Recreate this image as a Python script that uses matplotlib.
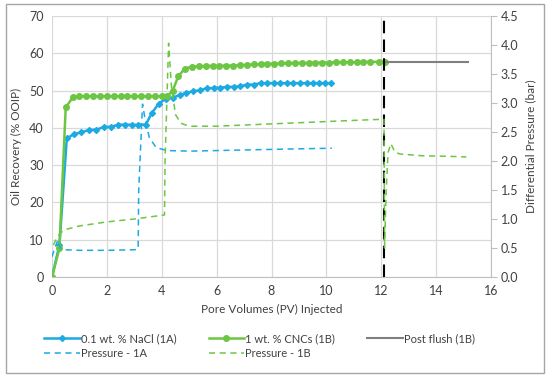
import numpy as np
import matplotlib.pyplot as plt

plt.rcParams['font.family'] = ['Lato', 'DejaVu Sans']

# oil recovery, 0.1 wt.% NaCl (1A)
pv_1a = [0, 0.27, 0.54, 0.8, 1.07, 1.34, 1.61, 1.88, 2.15, 2.4, 2.65, 2.9, 3.15,
         3.42, 3.64, 3.89, 4.15, 4.4, 4.65, 4.9, 5.15, 5.4, 5.64, 5.9, 6.13, 6.38,
         6.62, 6.86, 7.1, 7.35, 7.6, 7.84, 8.08, 8.32, 8.56, 8.8, 9.04, 9.28, 9.5,
         9.74, 9.96, 10.18]
rec_1a = [0, 8.5, 37.2, 38.3, 38.8, 39.4, 39.5, 40.2, 40.3, 40.8, 40.9, 40.8, 40.8,
          40.9, 44.0, 46.5, 47.8, 48.1, 48.8, 49.4, 49.8, 50.1, 50.6, 50.7, 50.8, 51.0,
          51.0, 51.1, 51.6, 51.6, 52.0, 52.0, 52.0, 52.0, 52.0, 52.0, 52.0, 52.0, 52.0,
          52.0, 52.0, 52.0]

# oil recovery, 1 wt.% CNCs (1B)
pv_1b = [0, 0.27, 0.5, 0.76, 1.0, 1.25, 1.5, 1.75, 2.0, 2.25, 2.5, 2.75, 3.0, 3.25,
         3.5, 3.75, 4.0, 4.2, 4.4, 4.6, 4.84, 5.1, 5.35, 5.6, 5.85, 6.1, 6.35, 6.6,
         6.85, 7.1, 7.35, 7.6, 7.85, 8.1, 8.35, 8.6, 8.85, 9.1, 9.35, 9.6, 9.85, 10.1,
         10.35, 10.6, 10.85, 11.1, 11.35, 11.6, 11.9, 12.15]
rec_1b = [0, 7.7, 45.5, 48.2, 48.5, 48.5, 48.5, 48.5, 48.5, 48.5, 48.5, 48.5, 48.5, 48.5,
          48.5, 48.5, 48.5, 48.5, 50.0, 53.8, 55.9, 56.4, 56.5, 56.6, 56.6, 56.6, 56.7, 56.7,
          56.8, 56.9, 57.0, 57.1, 57.2, 57.2, 57.3, 57.3, 57.4, 57.4, 57.4, 57.5, 57.5, 57.5,
          57.6, 57.6, 57.6, 57.6, 57.7, 57.7, 57.7, 57.7]

# post flush (1B)
pv_post = [12.15, 15.15]
rec_post = [57.7, 57.7]

# differential pressure, bar
pv_p1a = [0, 0.1, 0.22, 0.3, 0.45, 1.0, 2.0, 3.0, 3.14, 3.16, 3.3, 3.4, 3.55, 3.8,
          4.2, 5.0, 6.0, 7.0, 8.0, 9.0, 10.2]
dp_1a = [0.35, 0.5, 0.64, 0.5, 0.47, 0.46, 0.46, 0.47, 0.48, 1.5, 2.98, 2.7, 2.4, 2.23,
         2.18, 2.17, 2.18, 2.19, 2.2, 2.21, 2.22]

pv_p1b = [0.05, 0.15, 0.3, 0.5, 1.0, 2.0, 3.0, 4.1, 4.12, 4.25, 4.35, 4.5, 4.7, 5.0,
          6.0, 7.0, 8.0, 9.0, 10.0, 11.0, 12.1, 12.12, 12.18, 12.25, 12.35, 12.5, 12.7,
          13.5, 14.5, 15.1]
dp_1b = [0.55, 0.65, 0.76, 0.82, 0.88, 0.95, 1.0, 1.07, 2.0, 4.03, 3.3, 2.8, 2.65, 2.6,
         2.6, 2.62, 2.64, 2.66, 2.68, 2.7, 2.72, 0.5, 1.5, 2.15, 2.3, 2.15, 2.12,
         2.09, 2.08, 2.07]

pv_flush = 12.1

blue = '#1BAAE2'
green = '#6CC644'
txt = '#404040'

fig = plt.figure(figsize=(5.5, 3.79), dpi=100)
ax = fig.add_axes([52/550, 1 - 277/379, 439/550, 261/379])
ax2 = ax.twinx()

ax.plot(pv_1a, rec_1a, color=blue, lw=1.8, marker='D', ms=3, label='0.1 wt. % NaCl (1A)')
ax.plot(pv_1b, rec_1b, color=green, lw=1.8, marker='o', ms=4, label='1 wt. % CNCs (1B)')
ax.plot(pv_post, rec_post, color='#7F7F7F', lw=1.5, label='Post flush (1B)')
ax.plot([pv_flush, pv_flush], [0, 70], color='black', lw=1.5, ls=(0, (6, 3)))

ax2.plot(pv_p1a, dp_1a, color=blue, lw=1.1, ls=(0, (4, 3)), label='Pressure - 1A')
ax2.plot(pv_p1b, dp_1b, color=green, lw=1.1, ls=(0, (4, 3)), label='Pressure - 1B')

ax.set_xlim(0, 16)
ax.set_ylim(0, 70)
ax2.set_ylim(0, 4.5)
ax.set_xticks(np.arange(0, 17, 2))
ax.set_yticks(np.arange(0, 71, 10))
ax2.set_yticks(np.arange(0, 4.51, 0.5))
ax2.set_yticklabels(['%.1f' % v for v in np.arange(0, 4.51, 0.5)])
ax.grid(color='#D9D9D9', lw=0.9)
ax.set_axisbelow(True)

for a in (ax, ax2):
    for s in ('top', 'left'):
        a.spines[s].set_visible(False)
    a.spines['bottom'].set_color('#BFBFBF')
    a.spines['right'].set_color('#BFBFBF')
ax.spines['right'].set_visible(False)
ax2.spines['bottom'].set_visible(False)
ax.tick_params(axis='both', labelsize=9, colors=txt, length=0, pad=6)
ax2.tick_params(axis='y', labelsize=9, colors=txt, length=4, color='#BFBFBF', pad=3)

ax.set_xlabel('Pore Volumes (PV) Injected', fontsize=8.5, color=txt, labelpad=5)
ax.set_ylabel('Oil Recovery (% OOIP)', fontsize=8.5, color=txt, labelpad=5)
ax2.set_ylabel('Differential Pressure (bar)', fontsize=8.5, color=txt, labelpad=5)

h1, l1 = ax.get_legend_handles_labels()
h2, l2 = ax2.get_legend_handles_labels()
# column-major order so rows read: recovery series, then pressure series
handles = [h1[0], h2[0], h1[1], h2[1], h1[2]]
labels = [l1[0], l2[0], l1[1], l2[1], l1[2]]
leg = fig.legend(handles, labels, loc='lower left', bbox_to_anchor=(34/550, 10/379), ncol=3,
                 frameon=False, fontsize=8, handlelength=3.2, handletextpad=0.1,
                 columnspacing=2.9, labelspacing=0.35)
for t in leg.get_texts():
    t.set_color(txt)

fig.patches.append(plt.Rectangle((6/550, 6/379), 538/550, 369/379, transform=fig.transFigure,
                                 fill=False, edgecolor='#A6A6A6', lw=1))

fig.savefig('out.png', dpi=100)
